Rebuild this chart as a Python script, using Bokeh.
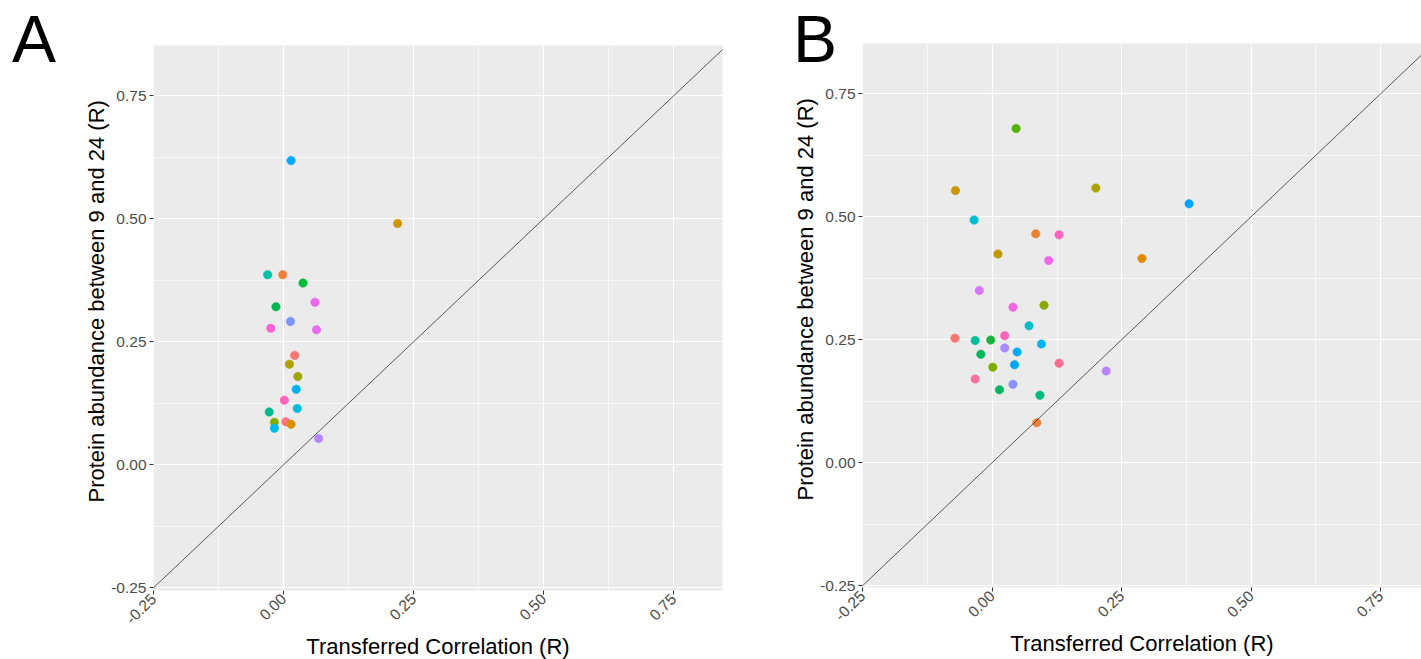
import math
from bokeh.plotting import figure
from bokeh.layouts import row, column
from bokeh.models import (Range1d, FixedTicker, PrintfTickFormatter, Slope, ColumnDataSource,
                          Title, Div)
from bokeh.embed import file_html
from bokeh.resources import INLINE

# ---------------- data ----------------
a_x = [0.014, -0.031, -0.002, 0.037, -0.015, 0.060, 0.013, -0.025, 0.063, 0.021,
       0.011, 0.027, 0.024, 0.001, 0.026, -0.028, -0.018, 0.004, 0.014, -0.018,
       0.067, 0.219]
a_y = [0.618, 0.386, 0.386, 0.369, 0.321, 0.330, 0.291, 0.277, 0.274, 0.222,
       0.204, 0.179, 0.153, 0.131, 0.114, 0.107, 0.086, 0.087, 0.082, 0.074,
       0.053, 0.490]
a_col = ["#00A9FF", "#00C1A3", "#EC823C", "#00BA38", "#00B74F", "#F066EA", "#7997FF",
         "#FB61D7", "#E76BF3", "#F8766D", "#AFA100", "#9DA700", "#00B2F3", "#FF62BC",
         "#00BCD8", "#00B98A", "#86AC00", "#FC717F", "#D89000", "#00B8E5", "#B385FF",
         "#CF9400"]

b_x = [0.046, -0.071, 0.200, -0.035, 0.084, 0.129, 0.011, 0.109, 0.380, 0.289,
       0.220, -0.025, 0.040, 0.100, 0.071, -0.072, -0.033, -0.003, 0.024, 0.024,
       0.048, 0.095, -0.022, 0.129, 0.043, 0.001, -0.033, 0.040, 0.014, 0.092,
       0.086]
b_y = [0.679, 0.553, 0.558, 0.493, 0.465, 0.463, 0.424, 0.411, 0.526, 0.415,
       0.186, 0.350, 0.316, 0.320, 0.278, 0.253, 0.248, 0.249, 0.258, 0.233,
       0.225, 0.241, 0.220, 0.202, 0.199, 0.194, 0.170, 0.159, 0.148, 0.137,
       0.081]
b_col = ["#53B400", "#CD9600", "#ABA300", "#00BDD0", "#EA8331", "#FF62BC", "#BF9B00",
         "#F066EA", "#00A5FF", "#E08B00", "#B983FF", "#D575FE", "#F564E3", "#8CAB00",
         "#00BFC4", "#F8766D", "#00BE9A", "#18B33E", "#FF63B6", "#A58AFF", "#00ACFC",
         "#00B4F0", "#00B65A", "#FF6C91", "#00A8F0", "#7CAE00", "#F7709A", "#8B93FF",
         "#00B862", "#00BA7A", "#ED813E"]

major_ticks = [-0.25, 0.0, 0.25, 0.5, 0.75]
minor_ticks = [-0.125, 0.125, 0.375, 0.625]
x_title = "Transferred Correlation (R)"
y_title = "Protein abundance between 9 and 24 (R)"
panel_letters = ["A", "B"]

FONT = "Liberation Sans"
H = 659
LH = 80  # height of the letter strip that sits under the top border of each plot


def panel(xs, ys, cols, xr, yr, width, mb_left, mb_right, mb_top, mb_bottom, y_off):
    p = figure(width=width, height=H, x_range=Range1d(*xr), y_range=Range1d(*yr),
               output_backend="svg", toolbar_location=None,
               min_border_left=mb_left, min_border_right=mb_right,
               min_border_top=mb_top, min_border_bottom=mb_bottom)
    p.background_fill_color = "#EBEBEB"
    p.border_fill_color = None
    p.outline_line_color = None

    for ax in (p.xaxis[0], p.yaxis[0]):
        ax.ticker = FixedTicker(ticks=major_ticks, minor_ticks=minor_ticks)
        ax.formatter = PrintfTickFormatter(format="%.2f")
        ax.axis_line_color = None
        ax.major_tick_line_color = "#333333"
        ax.major_tick_out = 4
        ax.major_tick_in = 0
        ax.minor_tick_out = 0
        ax.minor_tick_in = 0
        ax.major_label_text_font = FONT
        ax.major_label_text_font_size = "15.5px"
        ax.major_label_text_color = "#4D4D4D"
    p.yaxis[0].major_label_standoff = 3
    p.xaxis[0].major_label_standoff = 2
    p.xaxis[0].major_label_orientation = math.pi / 4

    for g in (p.xgrid[0], p.ygrid[0]):
        g.grid_line_color = "white"
        g.grid_line_width = 1.2
        g.minor_grid_line_color = "white"
        g.minor_grid_line_width = 0.6

    p.add_layout(Slope(gradient=1, y_intercept=0, line_color="#333333", line_width=0.8))

    src = ColumnDataSource(dict(x=xs, y=ys, c=cols))
    p.scatter("x", "y", source=src, size=8.5, fill_color="c", line_color="c", line_width=0.5)

    p.add_layout(Title(text=y_title, align="left", offset=y_off, standoff=0, text_font=FONT,
                       text_font_size="22px", text_font_style="normal", text_color="black"), "left")
    p.add_layout(Title(text=x_title, align="center", standoff=0, text_font=FONT,
                       text_font_size="22px", text_font_style="normal", text_color="black"), "below")
    p.margin = (-LH, 0, 0, 0)
    return p


def letter_div(letter, left):
    html = ('<div style="position:relative; left:%dpx; top:6px; font-family:\'%s\'; '
            'font-size:66px; line-height:66px; color:#000000; white-space:nowrap;">%s</div>'
            % (left, FONT, letter))
    return Div(text=html, width=100, height=LH, margin=(0, 0, 0, 0))


pA = panel(a_x, a_y, a_col, (-0.2505, 0.8437), (-0.256, 0.852), 780, 153, 58, 45, 69, 88)
pB = panel(b_x, b_y, b_col, (-0.2505, 0.8287), (-0.254, 0.852), 641, 82, 0, 43, 72, 87)

lA = letter_div(panel_letters[0], 12)
lB = letter_div(panel_letters[1], 13)

layout = row(column(lA, pA), column(lB, pB))
open("out.html", "w").write(file_html(layout, INLINE))
